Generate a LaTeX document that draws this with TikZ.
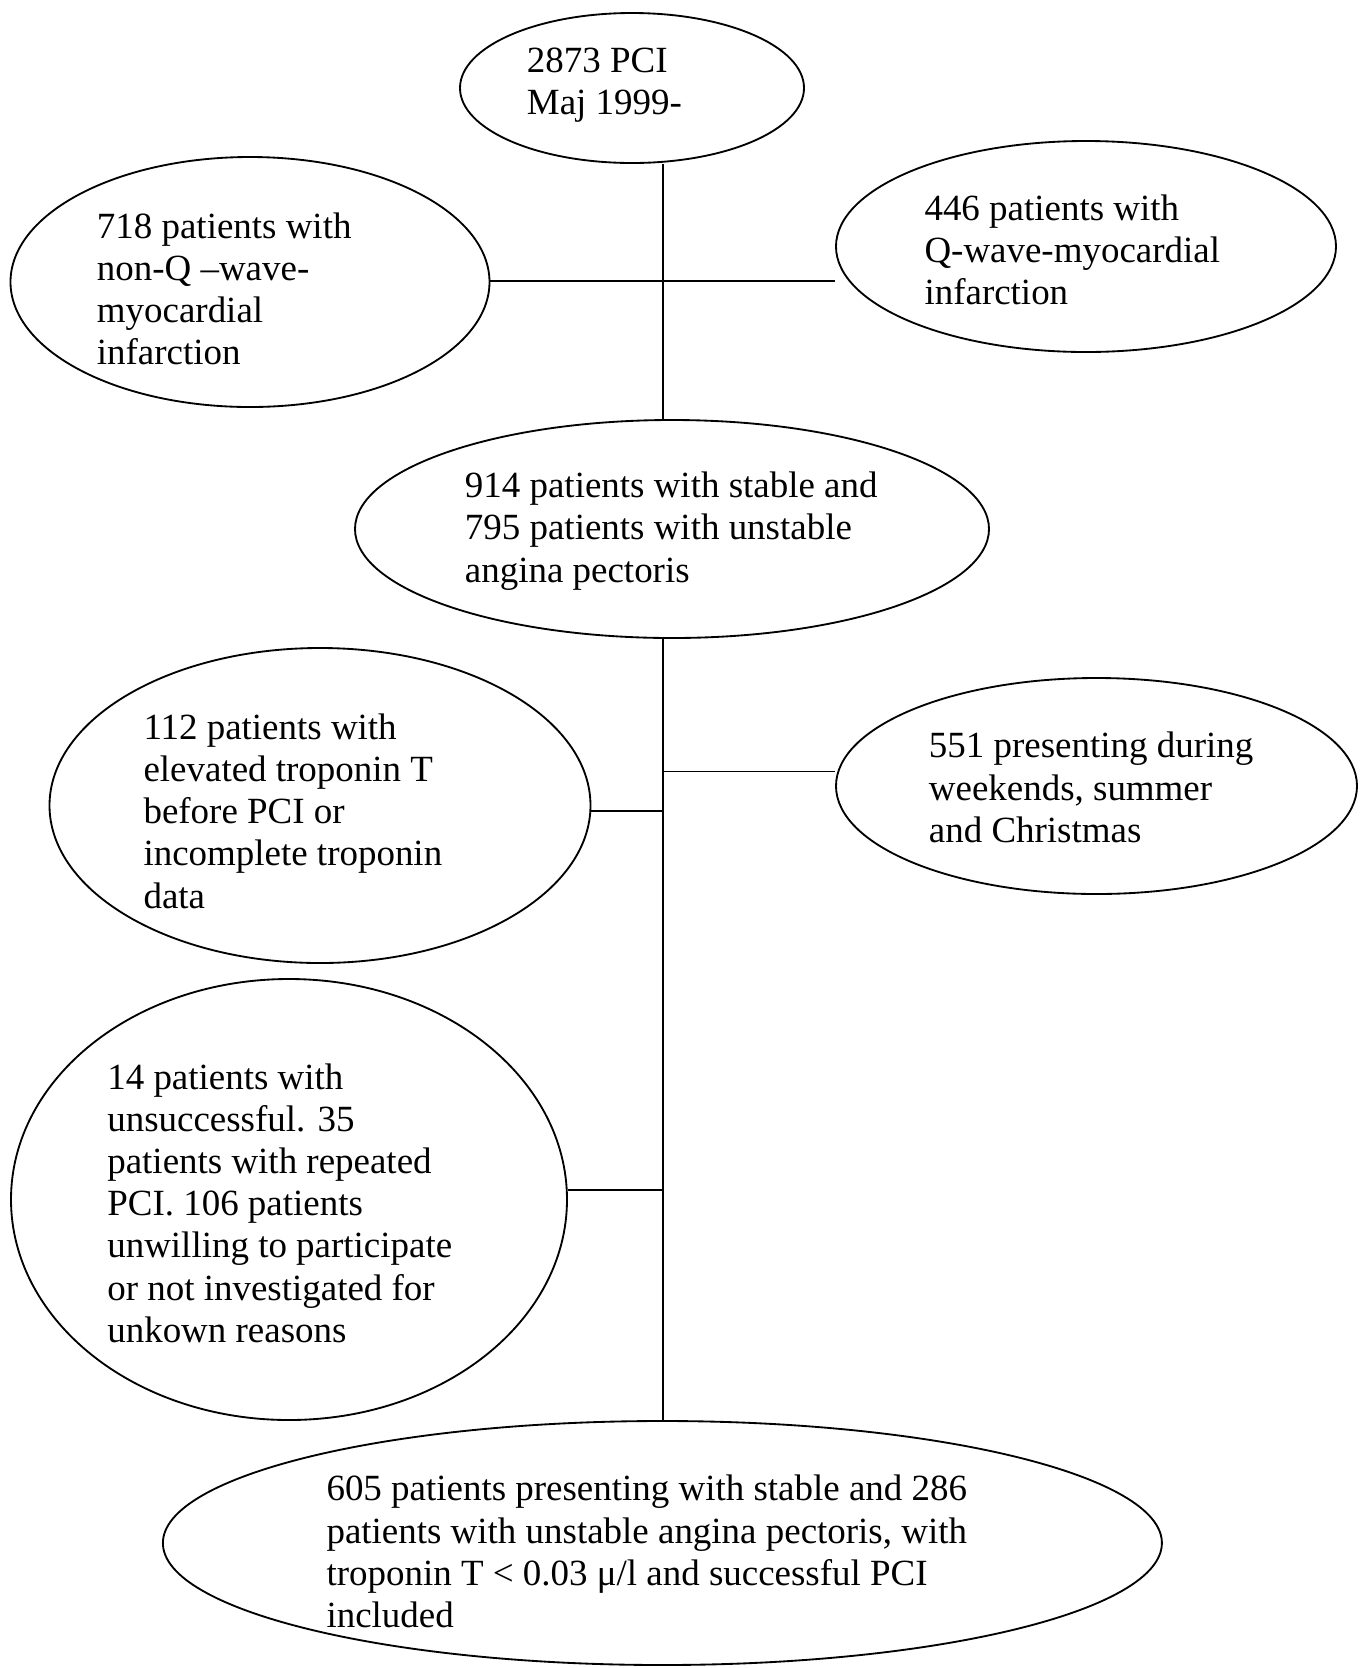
\documentclass[tikz,border=0pt]{standalone}
\usepackage{fontspec}
\setmainfont{Liberation Serif}
\usepackage{tikz}
\usetikzlibrary{shapes.geometric}

\tikzset{
  bubble/.style 2 args={draw, ellipse, inner sep=0pt, minimum width=#1*0.3247pt, minimum height=#2*0.3247pt},
  txt/.style={anchor=west, align=left, inner sep=0pt, font=\fontsize{12}{13.7}\selectfont},
}

\begin{document}
\begin{tikzpicture}[x=0.3247pt,y=0.3247pt,yscale=-1,line width=0.6pt]
\useasboundingbox (0,0) rectangle (1361,1668);

%Shape: Ellipse [id:pci]
\node [bubble={344}{150}] (pci) at (632,88) {};
%Shape: Ellipse [id:nqw]
\node [bubble={479}{250}] (nqw) at (250,282) {};
%Shape: Ellipse [id:qw]
\node [bubble={500}{211}] (qw) at (1086,246.5) {};
%Shape: Ellipse [id:ap]
\node [bubble={634}{218}] (ap) at (672,529) {};
%Shape: Ellipse [id:trop]
\node [bubble={541}{315}] (trop) at (320,805.5) {};
%Shape: Ellipse [id:wknd]
\node [bubble={521}{216}] (wknd) at (1096.5,786) {};
%Shape: Ellipse [id:excl]
\node [bubble={556}{441}] (excl) at (289,1199.5) {};
%Shape: Ellipse [id:incl]
\node [bubble={999}{244}] (incl) at (662.4,1543) {};

%Straight Lines
\coordinate (k1) at (663,281);
\coordinate (k2) at (663,771.5);
\coordinate (k3) at (663,811);
\coordinate (k4) at (663,1189.6);
\draw (pci.south -| k1) -- (ap.north -| k1);
\draw (nqw.east |- k1) -- (qw.west |- k1);
\draw (ap.south -| k1) -- (incl.north -| k1);
\draw (k2) -- (wknd.west |- k2);
\draw (k3) -- (trop.east |- k3);
\draw (k4) -- (excl.east |- k4);

% Text Node
\draw (526,85) node [txt] (t1) {2873 PCI\\Maj 1999-};
\draw (96,289) node [txt] (t2) {718 patients with\\non-Q –wave-\\myocardial\\infarction};
\draw (923.6,250) node [txt] (t3) {446 patients with\\Q-wave-myocardial\\infarction};
\draw (464,531) node [txt] (t4) {914 patients with stable and\\795 patients with unstable\\angina pectoris};
\draw (142.6,811) node [txt] (t5) {112 patients with\\elevated troponin T\\before PCI or\\incomplete troponin\\data};
\draw (928,787.5) node [txt] (t6) {551 presenting during\\weekends, summer\\and Christmas};
\draw (106.4,1203) node [txt] (t7) {14 patients with\\unsuccessful. 35\\patients with repeated\\PCI. 106 patients\\unwilling to participate\\or not investigated for\\unkown reasons};
\draw (325.6,1551.5) node [txt] (t8) {605 patients presenting with stable and 286\\patients with unstable angina pectoris, with\\troponin T < 0.03 μ/l and successful PCI\\included};
\end{tikzpicture}
\end{document}
